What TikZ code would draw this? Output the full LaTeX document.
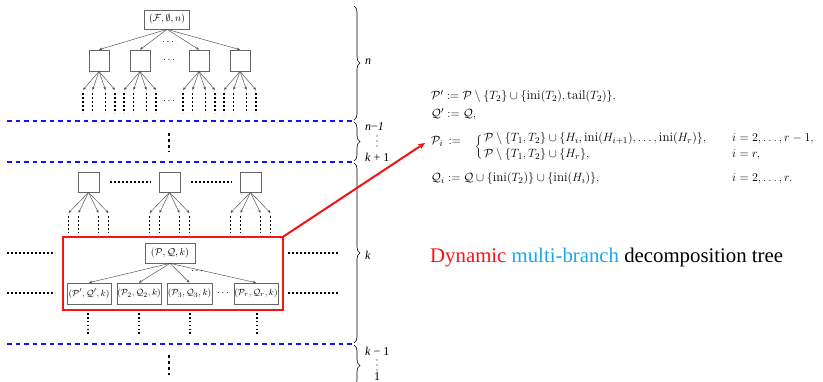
\documentclass[tikz,border=0pt]{standalone}
\usepackage{fontspec}
\usetikzlibrary{arrows.meta,decorations.pathreplacing}
\newfontfamily\tms{Liberation Serif}
\definecolor{myblue}{RGB}{20,20,250}
\definecolor{mycyan}{RGB}{20,170,235}
\definecolor{myred}{RGB}{245,20,20}
\newcommand\opn[1]{\mathrm{#1}}
\begin{document}
\begin{tikzpicture}[x=1pt,y=-1pt,
  box/.style={draw=black!60,line width=0.7pt,fill=white,inner sep=1pt,font=\fontsize{10}{12}\selectfont},
  cbox/.style={box,minimum width=44pt,minimum height=21pt,inner sep=0pt,font=\fontsize{9.3}{11}\selectfont},
  sq/.style={draw=black!60,line width=0.7pt,minimum width=20pt,minimum height=21pt,inner sep=0pt},
  tarr/.style={draw=black!70,line width=0.45pt,-{Stealth[length=3.2pt,width=2.6pt]}},
  vdts/.style={line width=1.7pt,dash pattern=on 1.7pt off 2.2pt},
  hdts/.style={line width=1.7pt,dash pattern=on 1.7pt off 2.3pt},
  bigdts/.style={line width=2.6pt,dash pattern=on 2.6pt off 3.4pt},
  blued/.style={draw=myblue,line width=1.8pt,dash pattern=on 4.8pt off 3.7pt},
  brc/.style={decorate,decoration={brace,amplitude=6pt},line width=0.6pt},
  lbl/.style={font=\tms\itshape\fontsize{12}{13}\selectfont,anchor=west,inner sep=0pt},
  mth/.style={font=\fontsize{13}{15}\selectfont,inner sep=0pt,anchor=base west},
  gdots/.style={font=\tiny,text=black!45,inner sep=0pt},
]
\useasboundingbox (0,0) rectangle (823,382);

% blue separators
\draw[blued] (7,121) -- (352,121);
\draw[blued] (7,162) -- (352,162);
\draw[blued] (7,344) -- (352,344);

% braces
\draw[brc] (354,6) -- (354,120);
\draw[brc] (354,122) -- (354,161);
\draw[brc] (354,163) -- (354,343);
\draw[brc] (354,345) -- (354,386);
\node[lbl] (ln) at (365,62) {n};
\node[lbl] (ln1) at (365,127) {n\textup{−}1};
\foreach \y in {136,141,146}{\fill (377,\y) circle (0.6pt);}
\node[lbl] (lk1) at (365,157) {k \textup{+ 1}};
\node[lbl] (lk) at (365,255) {k};
\node[lbl] (lkm) at (365,351) {k \textup{− 1}};
\foreach \y in {360,365,370}{\fill (377,\y) circle (0.6pt);}
\node[lbl,anchor=center] (lone) at (377,376.5) {\textup{1}};

% top tree
\node[box,minimum width=45pt,minimum height=19pt] (root) at (167,19.5) {$(\mathcal{F},\emptyset,n)$};
\foreach \n/\c in {a1/99,a2/140,a3/199,a4/240}{
  \node[sq] (\n) at (\c,60.5) {};
  \draw[tarr] (root.south) -- (\n.north);
  \foreach \o [count=\j] in {-16,-6.5,6.5,16}{
    \coordinate (\n l\j) at (\c+\o,90);
    \draw[tarr] (\n.south) -- (\n l\j);
    \draw[vdts] (\c+\o,93.5) -- (\c+\o,113);
  }
  \node[gdots] at (\c,87.5) {$\cdots$};
}
\node (td1) at (168,42) {$\cdots$};
\node (td2) at (169,60) {$\cdots$};
\node (td3) at (169,101) {$\cdots$};

% middle dots
\draw[bigdts] (169,133) -- (169,152);

% level k upper boxes
\foreach \n/\c in {b1/88.5,b2/169.5,b3/250.5}{
  \node[sq,minimum width=21pt,minimum height=20pt] (\n) at (\c,182) {};
  \foreach \o [count=\j] in {-20,-10,10,20}{
    \coordinate (\n l\j) at (\c+\o,213);
    \draw[tarr] (\n.south) -- (\n l\j);
    \draw[vdts] (\c+\o,216.5) -- (\c+\o,233);
  }
  \node[gdots] at (\c,209) {$\cdots$};
}
\draw[hdts] (110,182) -- (151,182);
\draw[hdts] (191,182) -- (232,182);

% red box
\node[draw=myred,color=myred,line width=1.1pt,minimum width=220pt,minimum height=73pt,inner sep=0pt] (redbox) at (173,273.5) {};
\node[box,minimum width=50pt,minimum height=20pt] (pq) at (170,253) {$(\mathcal{P},\mathcal{Q},k)$};
\node[cbox] (c1) at (89,293.5) {$(\mathcal{P}',\mathcal{Q}',k)$};
\node[cbox] (c2) at (139,293.5) {$(\mathcal{P}_2,\mathcal{Q}_2,k)$};
\node[cbox,minimum width=45pt] (c3) at (189.5,293.5) {$(\mathcal{P}_3,\mathcal{Q}_3,k)$};
\node[cbox] (c4) at (256,293.5) {$(\mathcal{P}_r,\mathcal{Q}_r,k)$};
\foreach \n in {c1,c2,c3,c4}{\draw[tarr] (pq.south) -- (\n.north);}
\node (rd1) at (197,271) {$\cdots$};
\node (rd2) at (223,293) {$\cdots$};
\foreach \x in {88,139,190,257}{\draw[vdts] (\x,313) -- (\x,334);}
\draw[hdts] (288,253) -- (338,253);
\draw[hdts] (288,293) -- (338,293);
\draw[hdts] (7,253) -- (55,253);
\draw[hdts] (7,293) -- (55,293);
\draw[bigdts] (169,355) -- (169,375);

% red arrow
\coordinate (tip) at (425,143);
\draw[myred,line width=2pt,-{Stealth[length=7pt,width=6pt]}] (redbox.north east) -- (tip);

% formulas
\node[mth] (m1) at (431,100) {$\mathcal{P}' \mathrel{:=} \mathcal{P}\setminus\{T_2\}\cup\{\opn{ini}(T_2),\opn{tail}(T_2)\},$};
\node[mth] (m2) at (431,118) {$\mathcal{Q}' \mathrel{:=} \mathcal{Q},$};
\node[mth] (m3) at (431,145) {$\mathcal{P}_i\mkern8mu{:=}$};
\node[font=\fontsize{13}{15}\selectfont,inner sep=0pt] (m3br) at (478.5,147.5) {$\bigg\{$};
\node[mth] (m3a) at (484,142) {$\mathcal{P}\setminus\{T_1,T_2\}\cup\{H_i,\opn{ini}(H_{i+1}),\ldots,\opn{ini}(H_r)\},$};
\node[mth] (m3b) at (484,158) {$\mathcal{P}\setminus\{T_1,T_2\}\cup\{H_r\},$};
\node[mth] (m3c) at (732,142) {$i=2,\ldots,r-1,$};
\node[mth] (m3d) at (732,158) {$i=r,$};
\node[mth] (m4) at (431,182) {$\mathcal{Q}_i \mathrel{:=} \mathcal{Q}\cup\{\opn{ini}(T_2)\}\cup\{\opn{ini}(H_i)\},$};
\node[mth] (m5) at (732,182) {$i=2,\ldots,r.$};

% caption
\node[anchor=base west,inner sep=0pt,font=\tms\fontsize{20.8}{24}\selectfont] (cap) at (430,263) {\textcolor{myred}{Dynamic} \textcolor{mycyan}{multi-branch} decomposition tree};
\end{tikzpicture}
\end{document}
